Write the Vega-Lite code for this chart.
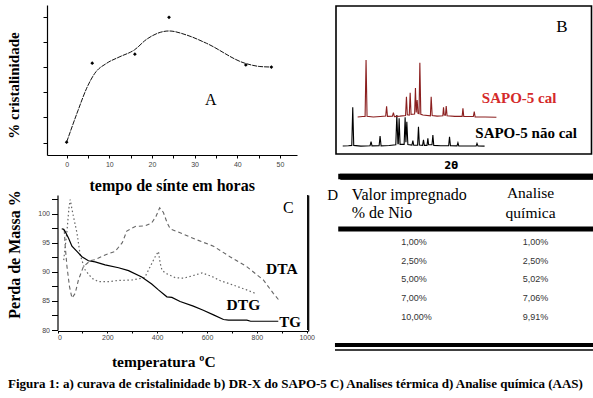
{
"$schema": "https://vega.github.io/schema/vega-lite/v6.json",
"width": 593, "height": 398,
"autosize": {"type": "none"},
"padding": 0,
"background": "white",
"config": {
  "view": {"stroke": null},
  "axis": {"grid": false, "domainColor": "#000", "domainWidth": 1.2, "tickColor": "#000", "labelColor": "#444", "labelFont": "Liberation Sans", "labelFontSize": 7, "titleFont": "Liberation Serif", "titleFontWeight": "bold", "titleColor": "#000"}
},
"title": {"text": "Figura 1: a) curava de cristalinidade b) DR-X do SAPO-5  C) Analises térmica  d) Analise química (AAS)", "orient": "bottom", "anchor": "start", "frame": "group", "offset": -20, "dx": 8, "font": "Liberation Serif", "fontSize": 13, "fontWeight": "bold", "color": "#000"},
"datasets": {
  "cristalinidade_curva": [
    {"tempo": 0, "cristalinidade": 50.2}, {"tempo": 2.7, "cristalinidade": 62.9}, {"tempo": 4.7, "cristalinidade": 71.6},
    {"tempo": 6.6, "cristalinidade": 77.5}, {"tempo": 9.4, "cristalinidade": 81.5}, {"tempo": 12.5, "cristalinidade": 84.1},
    {"tempo": 15.9, "cristalinidade": 86.8}, {"tempo": 18.75, "cristalinidade": 91.0}, {"tempo": 24, "cristalinidade": 94.3},
    {"tempo": 28.1, "cristalinidade": 92.7}, {"tempo": 32.8, "cristalinidade": 89.4}, {"tempo": 41.8, "cristalinidade": 81.5},
    {"tempo": 45.3, "cristalinidade": 80.2}, {"tempo": 47.8, "cristalinidade": 80.0}
  ],
  "cristalinidade_pontos": [
    {"tempo": 0, "cristalinidade": 50.2}, {"tempo": 6, "cristalinidade": 81.5}, {"tempo": 16, "cristalinidade": 85.1},
    {"tempo": 24, "cristalinidade": 99.7}, {"tempo": 42, "cristalinidade": 80.8}, {"tempo": 48, "cristalinidade": 80.0}
  ],
  "drx": [
    {"amostra": "SAPO-5 não cal", "doisTheta": 4.9, "intensidade": 5.4},
    {"amostra": "SAPO-5 não cal", "doisTheta": 6.5, "intensidade": 5.6},
    {"amostra": "SAPO-5 não cal", "doisTheta": 7.45, "intensidade": 5.8},
    {"amostra": "SAPO-5 não cal", "doisTheta": 7.72, "intensidade": 31.6},
    {"amostra": "SAPO-5 não cal", "doisTheta": 8.0, "intensidade": 5.8},
    {"amostra": "SAPO-5 não cal", "doisTheta": 10.0, "intensidade": 5.3},
    {"amostra": "SAPO-5 não cal", "doisTheta": 12.6, "intensidade": 5.6},
    {"amostra": "SAPO-5 não cal", "doisTheta": 12.88, "intensidade": 8.3},
    {"amostra": "SAPO-5 não cal", "doisTheta": 13.15, "intensidade": 5.5},
    {"amostra": "SAPO-5 não cal", "doisTheta": 15.15, "intensidade": 5.6},
    {"amostra": "SAPO-5 não cal", "doisTheta": 15.42, "intensidade": 12.2},
    {"amostra": "SAPO-5 não cal", "doisTheta": 15.7, "intensidade": 5.5},
    {"amostra": "SAPO-5 não cal", "doisTheta": 18.0, "intensidade": 5.7},
    {"amostra": "SAPO-5 não cal", "doisTheta": 19.85, "intensidade": 6.2},
    {"amostra": "SAPO-5 não cal", "doisTheta": 20.14, "intensidade": 26.4},
    {"amostra": "SAPO-5 não cal", "doisTheta": 20.45, "intensidade": 7.0},
    {"amostra": "SAPO-5 não cal", "doisTheta": 20.55, "intensidade": 7.0},
    {"amostra": "SAPO-5 não cal", "doisTheta": 20.79, "intensidade": 24.1},
    {"amostra": "SAPO-5 não cal", "doisTheta": 21.05, "intensidade": 6.5},
    {"amostra": "SAPO-5 não cal", "doisTheta": 22.2, "intensidade": 6.5},
    {"amostra": "SAPO-5 não cal", "doisTheta": 22.48, "intensidade": 24.8},
    {"amostra": "SAPO-5 não cal", "doisTheta": 22.7, "intensidade": 8.0},
    {"amostra": "SAPO-5 não cal", "doisTheta": 22.96, "intensidade": 21.8},
    {"amostra": "SAPO-5 não cal", "doisTheta": 23.25, "intensidade": 6.4},
    {"amostra": "SAPO-5 não cal", "doisTheta": 24.4, "intensidade": 6.0},
    {"amostra": "SAPO-5 não cal", "doisTheta": 24.66, "intensidade": 9.0},
    {"amostra": "SAPO-5 não cal", "doisTheta": 24.9, "intensidade": 5.9},
    {"amostra": "SAPO-5 não cal", "doisTheta": 26.0, "intensidade": 6.0},
    {"amostra": "SAPO-5 não cal", "doisTheta": 26.24, "intensidade": 18.4},
    {"amostra": "SAPO-5 não cal", "doisTheta": 26.5, "intensidade": 6.0},
    {"amostra": "SAPO-5 não cal", "doisTheta": 27.4, "intensidade": 5.8},
    {"amostra": "SAPO-5 não cal", "doisTheta": 27.65, "intensidade": 9.5},
    {"amostra": "SAPO-5 não cal", "doisTheta": 27.9, "intensidade": 5.8},
    {"amostra": "SAPO-5 não cal", "doisTheta": 28.65, "intensidade": 5.8},
    {"amostra": "SAPO-5 não cal", "doisTheta": 28.89, "intensidade": 10.6},
    {"amostra": "SAPO-5 não cal", "doisTheta": 29.1, "intensidade": 6.2},
    {"amostra": "SAPO-5 não cal", "doisTheta": 30.05, "intensidade": 6.2},
    {"amostra": "SAPO-5 não cal", "doisTheta": 30.3, "intensidade": 12.8},
    {"amostra": "SAPO-5 não cal", "doisTheta": 30.55, "intensidade": 5.8},
    {"amostra": "SAPO-5 não cal", "doisTheta": 32.5, "intensidade": 5.6},
    {"amostra": "SAPO-5 não cal", "doisTheta": 34.75, "intensidade": 5.6},
    {"amostra": "SAPO-5 não cal", "doisTheta": 34.99, "intensidade": 11.7},
    {"amostra": "SAPO-5 não cal", "doisTheta": 35.25, "intensidade": 5.6},
    {"amostra": "SAPO-5 não cal", "doisTheta": 37.1, "intensidade": 5.5},
    {"amostra": "SAPO-5 não cal", "doisTheta": 37.36, "intensidade": 7.6},
    {"amostra": "SAPO-5 não cal", "doisTheta": 37.6, "intensidade": 5.5},
    {"amostra": "SAPO-5 não cal", "doisTheta": 40.0, "intensidade": 5.4},
    {"amostra": "SAPO-5 não cal", "doisTheta": 42.5, "intensidade": 5.5},
    {"amostra": "SAPO-5 não cal", "doisTheta": 42.73, "intensidade": 7.2},
    {"amostra": "SAPO-5 não cal", "doisTheta": 43.0, "intensidade": 5.4},
    {"amostra": "SAPO-5 não cal", "doisTheta": 44.87, "intensidade": 5.3},
    {"amostra": "SAPO-5 cal", "doisTheta": 9.1, "intensidade": 25.0},
    {"amostra": "SAPO-5 cal", "doisTheta": 10.5, "intensidade": 25.3},
    {"amostra": "SAPO-5 cal", "doisTheta": 11.2, "intensidade": 25.4},
    {"amostra": "SAPO-5 cal", "doisTheta": 11.47, "intensidade": 63.5},
    {"amostra": "SAPO-5 cal", "doisTheta": 11.75, "intensidade": 25.5},
    {"amostra": "SAPO-5 cal", "doisTheta": 13.5, "intensidade": 25.0},
    {"amostra": "SAPO-5 cal", "doisTheta": 15.5, "intensidade": 25.3},
    {"amostra": "SAPO-5 cal", "doisTheta": 17.0, "intensidade": 25.6},
    {"amostra": "SAPO-5 cal", "doisTheta": 17.26, "intensidade": 32.2},
    {"amostra": "SAPO-5 cal", "doisTheta": 17.5, "intensidade": 25.4},
    {"amostra": "SAPO-5 cal", "doisTheta": 18.9, "intensidade": 25.5},
    {"amostra": "SAPO-5 cal", "doisTheta": 19.18, "intensidade": 28.0},
    {"amostra": "SAPO-5 cal", "doisTheta": 19.45, "intensidade": 25.3},
    {"amostra": "SAPO-5 cal", "doisTheta": 21.0, "intensidade": 25.6},
    {"amostra": "SAPO-5 cal", "doisTheta": 22.6, "intensidade": 26.0},
    {"amostra": "SAPO-5 cal", "doisTheta": 22.85, "intensidade": 38.7},
    {"amostra": "SAPO-5 cal", "doisTheta": 23.1, "intensidade": 26.5},
    {"amostra": "SAPO-5 cal", "doisTheta": 23.65, "intensidade": 26.3},
    {"amostra": "SAPO-5 cal", "doisTheta": 23.9, "intensidade": 41.4},
    {"amostra": "SAPO-5 cal", "doisTheta": 24.15, "intensidade": 26.8},
    {"amostra": "SAPO-5 cal", "doisTheta": 25.15, "intensidade": 27.0},
    {"amostra": "SAPO-5 cal", "doisTheta": 25.39, "intensidade": 44.6},
    {"amostra": "SAPO-5 cal", "doisTheta": 25.6, "intensidade": 28.0},
    {"amostra": "SAPO-5 cal", "doisTheta": 25.87, "intensidade": 36.5},
    {"amostra": "SAPO-5 cal", "doisTheta": 26.1, "intensidade": 27.5},
    {"amostra": "SAPO-5 cal", "doisTheta": 26.4, "intensidade": 27.2},
    {"amostra": "SAPO-5 cal", "doisTheta": 26.63, "intensidade": 61.7},
    {"amostra": "SAPO-5 cal", "doisTheta": 26.9, "intensidade": 26.8},
    {"amostra": "SAPO-5 cal", "doisTheta": 27.5, "intensidade": 26.3},
    {"amostra": "SAPO-5 cal", "doisTheta": 29.6, "intensidade": 25.8},
    {"amostra": "SAPO-5 cal", "doisTheta": 29.82, "intensidade": 38.7},
    {"amostra": "SAPO-5 cal", "doisTheta": 30.1, "intensidade": 26.0},
    {"amostra": "SAPO-5 cal", "doisTheta": 31.5, "intensidade": 25.6},
    {"amostra": "SAPO-5 cal", "doisTheta": 33.1, "intensidade": 25.8},
    {"amostra": "SAPO-5 cal", "doisTheta": 33.3, "intensidade": 31.6},
    {"amostra": "SAPO-5 cal", "doisTheta": 33.5, "intensidade": 26.4},
    {"amostra": "SAPO-5 cal", "doisTheta": 33.85, "intensidade": 26.3},
    {"amostra": "SAPO-5 cal", "doisTheta": 34.06, "intensidade": 32.4},
    {"amostra": "SAPO-5 cal", "doisTheta": 34.3, "intensidade": 25.8},
    {"amostra": "SAPO-5 cal", "doisTheta": 36.5, "intensidade": 25.4},
    {"amostra": "SAPO-5 cal", "doisTheta": 38.55, "intensidade": 25.4},
    {"amostra": "SAPO-5 cal", "doisTheta": 38.77, "intensidade": 30.9},
    {"amostra": "SAPO-5 cal", "doisTheta": 39.0, "intensidade": 25.4},
    {"amostra": "SAPO-5 cal", "doisTheta": 41.7, "intensidade": 25.3},
    {"amostra": "SAPO-5 cal", "doisTheta": 41.96, "intensidade": 28.6},
    {"amostra": "SAPO-5 cal", "doisTheta": 42.2, "intensidade": 25.1},
    {"amostra": "SAPO-5 cal", "doisTheta": 45.0, "intensidade": 25.0},
    {"amostra": "SAPO-5 cal", "doisTheta": 48.2, "intensidade": 24.8}
  ],
  "termica": [
    {"curva": "TG", "temperatura": 17, "valor": 97.4}, {"curva": "TG", "temperatura": 25, "valor": 97.3},
    {"curva": "TG", "temperatura": 31, "valor": 96.9}, {"curva": "TG", "temperatura": 44, "valor": 95.8},
    {"curva": "TG", "temperatura": 58, "valor": 94.4}, {"curva": "TG", "temperatura": 78, "valor": 93.5},
    {"curva": "TG", "temperatura": 98, "valor": 92.6}, {"curva": "TG", "temperatura": 124, "valor": 91.9},
    {"curva": "TG", "temperatura": 151, "valor": 91.7}, {"curva": "TG", "temperatura": 191, "valor": 91.2},
    {"curva": "TG", "temperatura": 245, "valor": 90.7}, {"curva": "TG", "temperatura": 285, "valor": 90.2},
    {"curva": "TG", "temperatura": 338, "valor": 89.1}, {"curva": "TG", "temperatura": 378, "valor": 87.9},
    {"curva": "TG", "temperatura": 405, "valor": 86.9}, {"curva": "TG", "temperatura": 439, "valor": 85.7},
    {"curva": "TG", "temperatura": 459, "valor": 85.6}, {"curva": "TG", "temperatura": 492, "valor": 84.9},
    {"curva": "TG", "temperatura": 545, "valor": 84.1}, {"curva": "TG", "temperatura": 585, "valor": 83.4},
    {"curva": "TG", "temperatura": 626, "valor": 82.6}, {"curva": "TG", "temperatura": 666, "valor": 81.8},
    {"curva": "TG", "temperatura": 686, "valor": 81.7}, {"curva": "TG", "temperatura": 760, "valor": 81.7},
    {"curva": "TG", "temperatura": 775, "valor": 81.5}, {"curva": "TG", "temperatura": 886, "valor": 81.5},
    {"curva": "DTA", "temperatura": 27, "valor": 97.2}, {"curva": "DTA", "temperatura": 31, "valor": 94.4},
    {"curva": "DTA", "temperatura": 38, "valor": 90.9}, {"curva": "DTA", "temperatura": 48, "valor": 87.5},
    {"curva": "DTA", "temperatura": 58, "valor": 85.5}, {"curva": "DTA", "temperatura": 71, "valor": 86.3},
    {"curva": "DTA", "temperatura": 84, "valor": 88.6}, {"curva": "DTA", "temperatura": 104, "valor": 90.9},
    {"curva": "DTA", "temperatura": 131, "valor": 91.9}, {"curva": "DTA", "temperatura": 151, "valor": 92.1},
    {"curva": "DTA", "temperatura": 191, "valor": 92.9}, {"curva": "DTA", "temperatura": 231, "valor": 93.5},
    {"curva": "DTA", "temperatura": 260, "valor": 95.0}, {"curva": "DTA", "temperatura": 278, "valor": 97.0},
    {"curva": "DTA", "temperatura": 312, "valor": 97.8}, {"curva": "DTA", "temperatura": 352, "valor": 97.9},
    {"curva": "DTA", "temperatura": 378, "valor": 98.4}, {"curva": "DTA", "temperatura": 395, "valor": 99.5},
    {"curva": "DTA", "temperatura": 410, "valor": 101.0}, {"curva": "DTA", "temperatura": 425, "valor": 100.2},
    {"curva": "DTA", "temperatura": 440, "valor": 98.4}, {"curva": "DTA", "temperatura": 452, "valor": 97.4},
    {"curva": "DTA", "temperatura": 492, "valor": 96.7}, {"curva": "DTA", "temperatura": 559, "valor": 95.5},
    {"curva": "DTA", "temperatura": 626, "valor": 94.4}, {"curva": "DTA", "temperatura": 692, "valor": 92.6},
    {"curva": "DTA", "temperatura": 759, "valor": 90.9}, {"curva": "DTA", "temperatura": 826, "valor": 88.6},
    {"curva": "DTA", "temperatura": 866, "valor": 86.3}, {"curva": "DTA", "temperatura": 893, "valor": 84.9},
    {"curva": "DTG", "temperatura": 25, "valor": 92.0}, {"curva": "DTG", "temperatura": 38, "valor": 97.0},
    {"curva": "DTG", "temperatura": 46, "valor": 101.0}, {"curva": "DTG", "temperatura": 51, "valor": 102.4},
    {"curva": "DTG", "temperatura": 57, "valor": 101.0}, {"curva": "DTG", "temperatura": 64, "valor": 99.5},
    {"curva": "DTG", "temperatura": 78, "valor": 96.7}, {"curva": "DTG", "temperatura": 91, "valor": 92.9},
    {"curva": "DTG", "temperatura": 111, "valor": 90.3}, {"curva": "DTG", "temperatura": 138, "valor": 88.9},
    {"curva": "DTG", "temperatura": 164, "valor": 88.3}, {"curva": "DTG", "temperatura": 205, "valor": 88.3},
    {"curva": "DTG", "temperatura": 238, "valor": 88.5}, {"curva": "DTG", "temperatura": 300, "valor": 88.6},
    {"curva": "DTG", "temperatura": 350, "valor": 89.0}, {"curva": "DTG", "temperatura": 365, "valor": 90.3},
    {"curva": "DTG", "temperatura": 392, "valor": 92.6}, {"curva": "DTG", "temperatura": 405, "valor": 93.5},
    {"curva": "DTG", "temperatura": 412, "valor": 91.5}, {"curva": "DTG", "temperatura": 419, "valor": 90.3},
    {"curva": "DTG", "temperatura": 432, "valor": 89.8}, {"curva": "DTG", "temperatura": 472, "valor": 89.0},
    {"curva": "DTG", "temperatura": 505, "valor": 88.9}, {"curva": "DTG", "temperatura": 540, "valor": 89.3},
    {"curva": "DTG", "temperatura": 580, "valor": 89.8}, {"curva": "DTG", "temperatura": 620, "valor": 89.2},
    {"curva": "DTG", "temperatura": 652, "valor": 88.5}, {"curva": "DTG", "temperatura": 700, "valor": 87.8},
    {"curva": "DTG", "temperatura": 759, "valor": 86.9}, {"curva": "DTG", "temperatura": 793, "valor": 86.3}
  ],
  "tabela": [
    {"linha": 1, "impregnado": "1,00%", "aas": "1,00%"},
    {"linha": 2, "impregnado": "2,50%", "aas": "2,50%"},
    {"linha": 3, "impregnado": "5,00%", "aas": "5,02%"},
    {"linha": 4, "impregnado": "7,00%", "aas": "7,06%"},
    {"linha": 5, "impregnado": "10,00%", "aas": "9,91%"}
  ]
},
"layer": [
  {
    "layer": [
      {
        "data": {"name": "cristalinidade_curva"},
        "mark": {"type": "line", "interpolate": "monotone", "color": "#111", "strokeWidth": 1, "strokeDash": [5, 1]},
        "encoding": {
          "x": {"field": "tempo", "type": "quantitative",
                "scale": {"domain": [-4.6, 54], "range": [47, 297], "nice": false, "zero": false},
                "axis": {"orient": "bottom", "offset": -243, "values": [0, 5, 10, 15, 20, 25, 30, 35, 40, 45, 50],
                         "labelExpr": "datum.value % 10 == 0 ? datum.label : ''", "tickSize": 3, "labelPadding": 2,
                         "title": "tempo de sínte em horas", "titleFontSize": 16, "titleX": 171.7, "titleY": 30,
                         "titleBaseline": "middle", "titleAlign": "center", "titleAngle": 0}},
          "y": {"field": "cristalinidade", "type": "quantitative",
                "scale": {"domain": [45.1, 104.6], "range": [155, 5], "nice": false, "zero": false},
                "axis": {"orient": "left", "offset": -47, "values": [50, 60, 70, 80, 90, 100], "labels": false, "tickSize": 4,
                         "title": "% cristalinidade", "titleFontSize": 15, "titleX": -34, "titleY": 85,
                         "titleBaseline": "middle", "titleAlign": "center", "titleAngle": 270}}
        }
      },
      {
        "data": {"name": "cristalinidade_pontos"},
        "mark": {"type": "point", "shape": "diamond", "filled": true, "size": 14, "color": "#000", "opacity": 1},
        "encoding": {
          "x": {"field": "tempo", "type": "quantitative"},
          "y": {"field": "cristalinidade", "type": "quantitative"}
        }
      },
      {
        "data": {"values": [{}]},
        "mark": {"type": "text", "text": "A", "font": "Liberation Serif", "fontSize": 16, "align": "center", "baseline": "middle", "color": "#000"},
        "encoding": {"x": {"datum": 33.8, "type": "quantitative"}, "y": {"datum": 66.9, "type": "quantitative"}}
      }
    ]
  },
  {
    "layer": [
      {
        "data": {"values": [{}]},
        "mark": {"type": "rect", "filled": false, "color": "#000", "strokeWidth": 1.6},
        "encoding": {
          "x": {"datum": 3, "type": "quantitative",
                "scale": {"domain": [3, 75], "range": [336, 591.5], "nice": false, "zero": false},
                "axis": {"orient": "bottom", "offset": -244, "domain": false, "ticks": false, "labels": false,
                         "title": "2θ", "titleFont": "DejaVu Sans", "titleFontSize": 10, "titleX": 450.7, "titleY": 11,
                         "titleBaseline": "middle", "titleAlign": "center"}},
          "x2": {"datum": 75},
          "y": {"datum": 0, "type": "quantitative",
                "scale": {"domain": [0, 100], "range": [154, 6], "nice": false, "zero": false}, "axis": null},
          "y2": {"datum": 100}
        }
      },
      {
        "data": {"values": [{}]},
        "mark": {"type": "rule", "color": "#000", "strokeWidth": 5.5},
        "encoding": {"x": {"datum": 4.1, "type": "quantitative"}, "x2": {"datum": 76}, "y": {"datum": -15.2, "type": "quantitative"}}
      },
      {
        "data": {"name": "drx"},
        "mark": {"type": "line", "strokeWidth": 1.1},
        "encoding": {
          "x": {"field": "doisTheta", "type": "quantitative"},
          "y": {"field": "intensidade", "type": "quantitative"},
          "color": {"field": "amostra", "type": "nominal",
                    "scale": {"domain": ["SAPO-5 cal", "SAPO-5 não cal"], "range": ["#8b1f1f", "#000000"]}, "legend": null}
        }
      },
      {
        "data": {"values": [{}]},
        "mark": {"type": "text", "text": "SAPO-5 cal", "font": "Liberation Serif", "fontWeight": "bold", "fontSize": 15, "align": "left", "baseline": "middle", "color": "#d42a2a"},
        "encoding": {"x": {"datum": 44.1, "type": "quantitative"}, "y": {"datum": 37.6, "type": "quantitative"}}
      },
      {
        "data": {"values": [{}]},
        "mark": {"type": "text", "text": "SAPO-5 não cal", "font": "Liberation Serif", "fontWeight": "bold", "fontSize": 15, "align": "left", "baseline": "middle", "color": "#000"},
        "encoding": {"x": {"datum": 42.25, "type": "quantitative"}, "y": {"datum": 14.0, "type": "quantitative"}}
      },
      {
        "data": {"values": [{}]},
        "mark": {"type": "text", "text": "B", "font": "Liberation Serif", "fontSize": 17, "align": "center", "baseline": "middle", "color": "#000"},
        "encoding": {"x": {"datum": 66.7, "type": "quantitative"}, "y": {"datum": 85.6, "type": "quantitative"}}
      }
    ]
  },
  {
    "data": {"name": "termica"},
    "layer": [
      {
        "transform": [{"filter": "datum.curva == 'DTA'"}],
        "mark": {"type": "line", "color": "#666", "strokeWidth": 1.1, "strokeDash": [4, 3]},
        "encoding": {
          "x": {"field": "temperatura", "type": "quantitative",
                "scale": {"domain": [0, 1005], "range": [57.5, 307.95], "nice": false, "zero": false},
                "axis": {"orient": "bottom", "offset": -67, "values": [0, 100, 200, 300, 400, 500, 600, 700, 800, 900, 1000],
                         "format": "d", "labelExpr": "datum.value % 200 == 0 ? datum.label : ''", "tickSize": 2, "labelPadding": 0,
                         "title": "temperatura ºC", "titleFontSize": 15.5, "titleX": 163.3, "titleY": 30.7,
                         "titleBaseline": "middle", "titleAlign": "center", "titleAngle": 0}},
          "y": {"field": "valor", "type": "quantitative",
                "scale": {"domain": [80, 103.2], "range": [330, 195], "nice": false, "zero": false},
                "axis": {"orient": "left", "offset": -57.5, "values": [80, 82.5, 85, 87.5, 90, 92.5, 95, 97.5, 100, 102.5],
                         "labelExpr": "datum.value % 5 == 0 ? datum.label : ''", "tickSize": 6, "labelPadding": 2,
                         "title": "Perda de Massa %", "titleFontSize": 16, "titleX": -43.5, "titleY": 254,
                         "titleBaseline": "middle", "titleAlign": "center", "titleAngle": 270}}
        }
      },
      {
        "data": {"values": [{}]},
        "mark": {"type": "rule", "color": "#000", "strokeWidth": 1.3},
        "encoding": {"x": {"datum": 1004, "type": "quantitative"}, "y": {"datum": 80, "type": "quantitative"}, "y2": {"datum": 103.2}}
      },
      {
        "transform": [{"filter": "datum.curva == 'DTG'"}],
        "mark": {"type": "line", "color": "#666", "strokeWidth": 1.2, "strokeDash": [1.5, 2.5]},
        "encoding": {
          "x": {"field": "temperatura", "type": "quantitative"},
          "y": {"field": "valor", "type": "quantitative"}
        }
      },
      {
        "transform": [{"filter": "datum.curva == 'TG'"}],
        "mark": {"type": "line", "color": "#000", "strokeWidth": 1.2},
        "encoding": {
          "x": {"field": "temperatura", "type": "quantitative"},
          "y": {"field": "valor", "type": "quantitative"}
        }
      },
      {
        "data": {"values": [{}]},
        "mark": {"type": "text", "text": "C", "font": "Liberation Serif", "fontSize": 16, "align": "center", "baseline": "middle", "color": "#000"},
        "encoding": {"x": {"datum": 926, "type": "quantitative"}, "y": {"datum": 101.0, "type": "quantitative"}}
      },
      {
        "data": {"values": [{}]},
        "mark": {"type": "text", "text": "DTA", "font": "Liberation Serif", "fontWeight": "bold", "fontSize": 15.5, "align": "center", "baseline": "middle", "color": "#000"},
        "encoding": {"x": {"datum": 900, "type": "quantitative"}, "y": {"datum": 90.5, "type": "quantitative"}}
      },
      {
        "data": {"values": [{}]},
        "mark": {"type": "text", "text": "DTG", "font": "Liberation Serif", "fontWeight": "bold", "fontSize": 15.5, "align": "center", "baseline": "middle", "color": "#000"},
        "encoding": {"x": {"datum": 746, "type": "quantitative"}, "y": {"datum": 84.3, "type": "quantitative"}}
      },
      {
        "data": {"values": [{}]},
        "mark": {"type": "text", "text": "TG", "font": "Liberation Serif", "fontWeight": "bold", "fontSize": 15, "align": "center", "baseline": "middle", "color": "#000"},
        "encoding": {"x": {"datum": 933, "type": "quantitative"}, "y": {"datum": 81.4, "type": "quantitative"}}
      }
    ]
  },
  {
    "data": {"name": "tabela"},
    "layer": [
      {
        "data": {"values": [{}]},
        "mark": {"type": "rule", "color": "#000", "strokeWidth": 5},
        "encoding": {
          "x": {"datum": 0.48, "type": "quantitative", "scale": {"domain": [0, 3], "range": [280, 644], "nice": false, "zero": false}, "axis": null},
          "x2": {"datum": 2.6},
          "y": {"datum": 0.32, "type": "quantitative", "scale": {"domain": [-3, 7], "range": [166.75, 354.25], "nice": false, "zero": false}, "axis": null}
        }
      },
      {
        "data": {"values": [{}]},
        "mark": {"type": "rule", "color": "#000", "strokeWidth": 5.5},
        "encoding": {"x": {"datum": 0.48, "type": "quantitative"}, "x2": {"datum": 2.6}, "y": {"datum": -2.48, "type": "quantitative"}}
      },
      {
        "data": {"values": [{}]},
        "mark": {"type": "rule", "color": "#000", "strokeWidth": 4},
        "encoding": {"x": {"datum": 0.453, "type": "quantitative"}, "x2": {"datum": 2.6}, "y": {"datum": 6.51, "type": "quantitative"}}
      },
      {
        "data": {"values": [{}]},
        "mark": {"type": "rule", "color": "#000", "strokeWidth": 1.5},
        "encoding": {"x": {"datum": 0.453, "type": "quantitative"}, "x2": {"datum": 2.6}, "y": {"datum": 6.77, "type": "quantitative"}}
      },
      {
        "mark": {"type": "text", "align": "left", "baseline": "middle", "font": "Liberation Sans", "fontSize": 9, "color": "#333"},
        "encoding": {
          "x": {"datum": 1, "type": "quantitative"},
          "y": {"field": "linha", "type": "quantitative"},
          "text": {"field": "impregnado"}
        }
      },
      {
        "mark": {"type": "text", "align": "left", "baseline": "middle", "font": "Liberation Sans", "fontSize": 9, "color": "#333"},
        "encoding": {
          "x": {"datum": 2, "type": "quantitative"},
          "y": {"field": "linha", "type": "quantitative"},
          "text": {"field": "aas"}
        }
      },
      {
        "data": {"values": [{}]},
        "mark": {"type": "text", "text": "Valor impregnado", "font": "Liberation Serif", "fontSize": 16, "align": "left", "baseline": "middle", "color": "#000"},
        "encoding": {"x": {"datum": 0.591, "type": "quantitative"}, "y": {"datum": -1.493, "type": "quantitative"}}
      },
      {
        "data": {"values": [{}]},
        "mark": {"type": "text", "text": "% de Nio", "font": "Liberation Serif", "fontSize": 16, "align": "left", "baseline": "middle", "color": "#000"},
        "encoding": {"x": {"datum": 0.591, "type": "quantitative"}, "y": {"datum": -0.517, "type": "quantitative"}}
      },
      {
        "data": {"values": [{}]},
        "mark": {"type": "text", "text": "Analise", "font": "Liberation Serif", "fontSize": 15.5, "align": "center", "baseline": "middle", "color": "#000"},
        "encoding": {"x": {"datum": 2.065, "type": "quantitative"}, "y": {"datum": -1.6, "type": "quantitative"}}
      },
      {
        "data": {"values": [{}]},
        "mark": {"type": "text", "text": "química", "font": "Liberation Serif", "fontSize": 15.5, "align": "center", "baseline": "middle", "color": "#000"},
        "encoding": {"x": {"datum": 2.065, "type": "quantitative"}, "y": {"datum": -0.517, "type": "quantitative"}}
      },
      {
        "data": {"values": [{}]},
        "mark": {"type": "text", "text": "D", "font": "Liberation Serif", "fontSize": 15, "align": "center", "baseline": "middle", "color": "#000"},
        "encoding": {"x": {"datum": 0.434, "type": "quantitative"}, "y": {"datum": -1.49, "type": "quantitative"}}
      }
    ]
  },
  {
    "data": {"values": [{}]},
    "mark": {"type": "text", "text": ""},
    "encoding": {
      "x": {"datum": 0, "type": "quantitative",
            "scale": {"domain": [0, 1], "range": [340, 596], "nice": false, "zero": false},
            "axis": {"orient": "bottom", "offset": -221.5, "domain": true, "domainWidth": 5.5, "domainColor": "#000", "ticks": false, "labels": false, "title": null}},
      "y": {"datum": 0, "type": "quantitative",
            "scale": {"domain": [0, 1], "range": [331, 195], "nice": false, "zero": false},
            "axis": {"orient": "left", "offset": -308.2, "domain": true, "domainWidth": 1.2, "domainColor": "#000", "ticks": false, "labels": false, "title": null}}
    }
  }
],
"resolve": {"scale": {"x": "independent", "y": "independent", "color": "independent"}}
}
